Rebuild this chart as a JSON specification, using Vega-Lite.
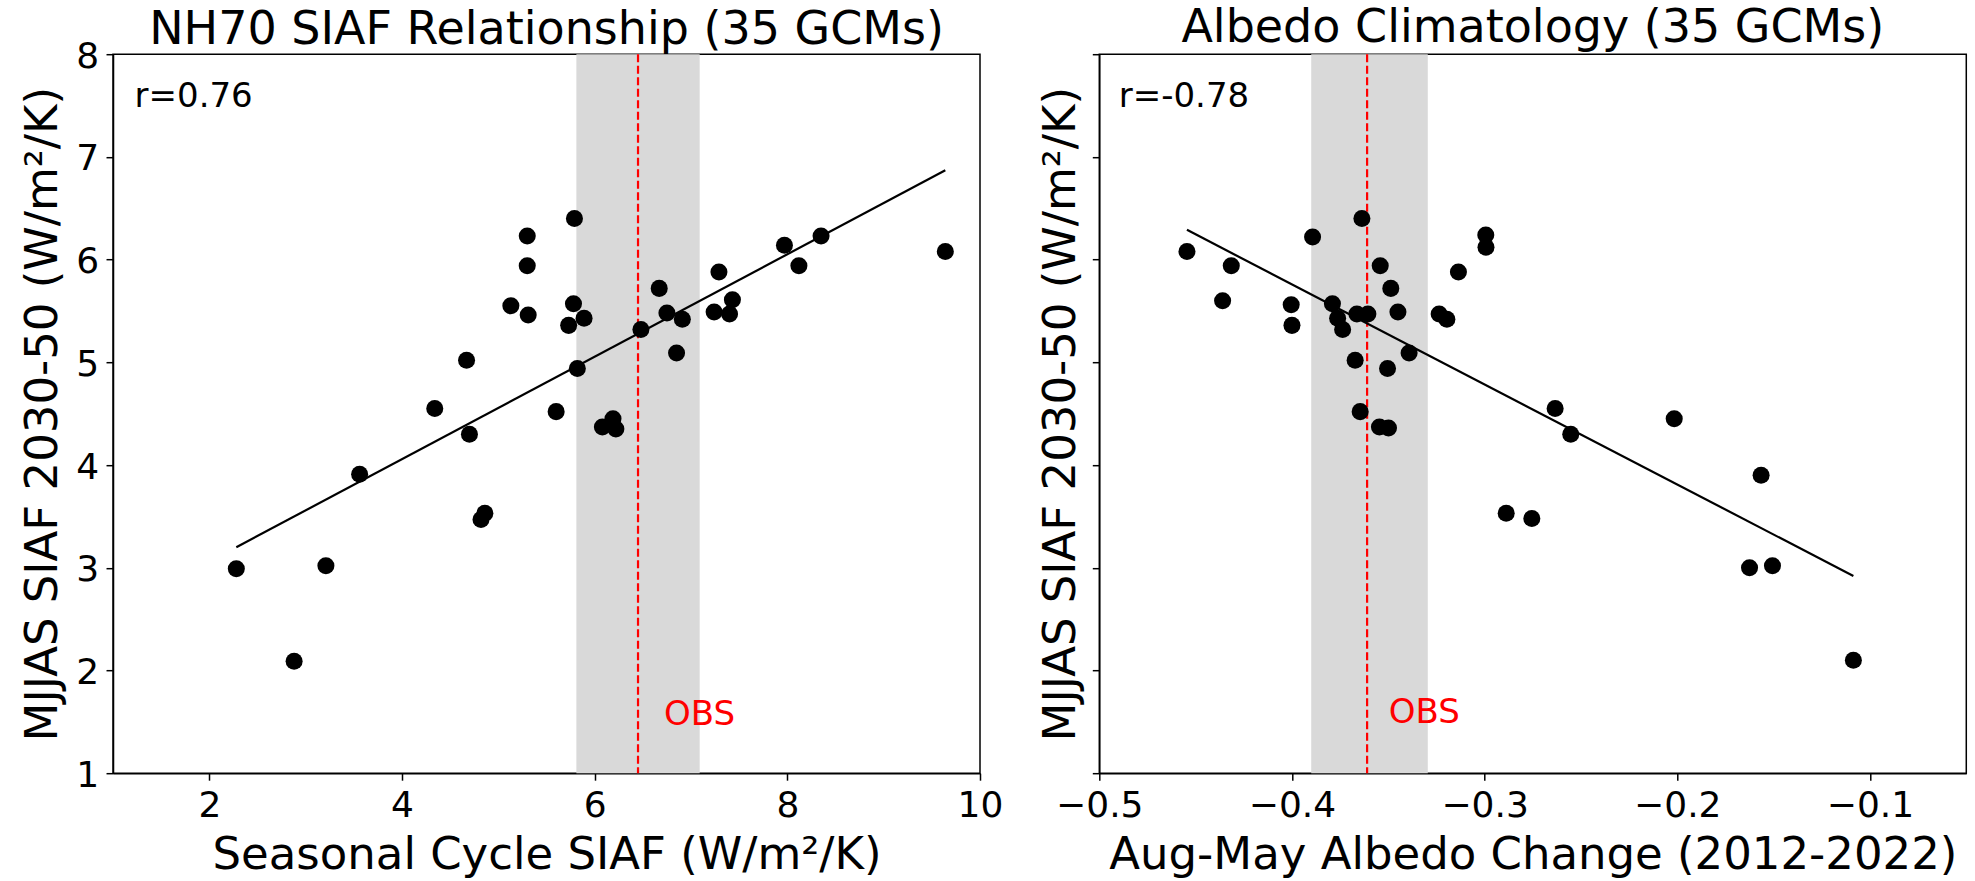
{
  "$schema": "https://vega.github.io/schema/vega-lite/v6.json",
  "padding": {"left": 19, "top": 3.2, "right": 5, "bottom": 2},
  "autosize": {"type": "pad"},
  "background": "white",
  "config": {
    "font": "DejaVu Sans",
    "view": {"stroke": "black", "strokeWidth": 1.5},
    "axis": {
      "grid": false,
      "domainColor": "black",
      "domainWidth": 1.5,
      "tickColor": "black",
      "tickWidth": 1.5,
      "tickSize": 7,
      "labelColor": "black",
      "titleColor": "black",
      "labelFontSize": 36,
      "titleFontSize": 45,
      "titleFontWeight": "normal",
      "labelFlush": false,
      "labelOverlap": false,
      "labelBound": false
    },
    "title": {
      "fontSize": 46,
      "fontWeight": "normal",
      "color": "black",
      "baseline": "alphabetic",
      "anchor": "middle",
      "frame": "group"
    }
  },
  "datasets": {
    "nh70": [
      {"seasonal_siaf": 2.28, "siaf_2030_50": 2.99},
      {"seasonal_siaf": 2.88, "siaf_2030_50": 2.09},
      {"seasonal_siaf": 3.21, "siaf_2030_50": 3.02},
      {"seasonal_siaf": 3.56, "siaf_2030_50": 3.91},
      {"seasonal_siaf": 4.34, "siaf_2030_50": 4.55},
      {"seasonal_siaf": 4.67, "siaf_2030_50": 5.02},
      {"seasonal_siaf": 4.70, "siaf_2030_50": 4.30},
      {"seasonal_siaf": 4.82, "siaf_2030_50": 3.47},
      {"seasonal_siaf": 4.86, "siaf_2030_50": 3.53},
      {"seasonal_siaf": 5.13, "siaf_2030_50": 5.55},
      {"seasonal_siaf": 5.30, "siaf_2030_50": 6.23},
      {"seasonal_siaf": 5.30, "siaf_2030_50": 5.94},
      {"seasonal_siaf": 5.31, "siaf_2030_50": 5.46},
      {"seasonal_siaf": 5.60, "siaf_2030_50": 4.52},
      {"seasonal_siaf": 5.73, "siaf_2030_50": 5.36},
      {"seasonal_siaf": 5.78, "siaf_2030_50": 5.57},
      {"seasonal_siaf": 5.79, "siaf_2030_50": 6.40},
      {"seasonal_siaf": 5.82, "siaf_2030_50": 4.94},
      {"seasonal_siaf": 5.89, "siaf_2030_50": 5.43},
      {"seasonal_siaf": 6.08, "siaf_2030_50": 4.37},
      {"seasonal_siaf": 6.19, "siaf_2030_50": 4.45},
      {"seasonal_siaf": 6.22, "siaf_2030_50": 4.35},
      {"seasonal_siaf": 6.48, "siaf_2030_50": 5.32},
      {"seasonal_siaf": 6.67, "siaf_2030_50": 5.72},
      {"seasonal_siaf": 6.75, "siaf_2030_50": 5.48},
      {"seasonal_siaf": 6.85, "siaf_2030_50": 5.09},
      {"seasonal_siaf": 6.91, "siaf_2030_50": 5.42},
      {"seasonal_siaf": 7.24, "siaf_2030_50": 5.49},
      {"seasonal_siaf": 7.29, "siaf_2030_50": 5.88},
      {"seasonal_siaf": 7.40, "siaf_2030_50": 5.47},
      {"seasonal_siaf": 7.43, "siaf_2030_50": 5.61},
      {"seasonal_siaf": 7.97, "siaf_2030_50": 6.14},
      {"seasonal_siaf": 8.12, "siaf_2030_50": 5.94},
      {"seasonal_siaf": 8.35, "siaf_2030_50": 6.23},
      {"seasonal_siaf": 9.64, "siaf_2030_50": 6.08}
    ],
    "albedo": [
      {"albedo_change": -0.4545, "siaf_2030_50": 6.08},
      {"albedo_change": -0.4315, "siaf_2030_50": 5.94},
      {"albedo_change": -0.436, "siaf_2030_50": 5.60},
      {"albedo_change": -0.4004, "siaf_2030_50": 5.56},
      {"albedo_change": -0.4, "siaf_2030_50": 5.36},
      {"albedo_change": -0.3893, "siaf_2030_50": 6.22},
      {"albedo_change": -0.379, "siaf_2030_50": 5.57},
      {"albedo_change": -0.3763, "siaf_2030_50": 5.43},
      {"albedo_change": -0.3737, "siaf_2030_50": 5.32},
      {"albedo_change": -0.3663, "siaf_2030_50": 5.47},
      {"albedo_change": -0.3606, "siaf_2030_50": 5.47},
      {"albedo_change": -0.3637, "siaf_2030_50": 6.40},
      {"albedo_change": -0.3542, "siaf_2030_50": 5.94},
      {"albedo_change": -0.3487, "siaf_2030_50": 5.72},
      {"albedo_change": -0.345, "siaf_2030_50": 5.49},
      {"albedo_change": -0.3392, "siaf_2030_50": 5.09},
      {"albedo_change": -0.3672, "siaf_2030_50": 5.02},
      {"albedo_change": -0.3504, "siaf_2030_50": 4.94},
      {"albedo_change": -0.3646, "siaf_2030_50": 4.52},
      {"albedo_change": -0.3546, "siaf_2030_50": 4.37},
      {"albedo_change": -0.3499, "siaf_2030_50": 4.36},
      {"albedo_change": -0.3236, "siaf_2030_50": 5.47},
      {"albedo_change": -0.3196, "siaf_2030_50": 5.42},
      {"albedo_change": -0.3136, "siaf_2030_50": 5.88},
      {"albedo_change": -0.2994, "siaf_2030_50": 6.24},
      {"albedo_change": -0.2993, "siaf_2030_50": 6.12},
      {"albedo_change": -0.2634, "siaf_2030_50": 4.55},
      {"albedo_change": -0.2553, "siaf_2030_50": 4.30},
      {"albedo_change": -0.2888, "siaf_2030_50": 3.53},
      {"albedo_change": -0.2755, "siaf_2030_50": 3.48},
      {"albedo_change": -0.2016, "siaf_2030_50": 4.45},
      {"albedo_change": -0.1565, "siaf_2030_50": 3.90},
      {"albedo_change": -0.1625, "siaf_2030_50": 3.00},
      {"albedo_change": -0.1506, "siaf_2030_50": 3.02},
      {"albedo_change": -0.1086, "siaf_2030_50": 2.10}
    ],
    "fit_nh70": [
      {"seasonal_siaf": 2.28, "siaf_2030_50": 3.20},
      {"seasonal_siaf": 9.64, "siaf_2030_50": 6.87}
    ],
    "fit_albedo": [
      {"albedo_change": -0.4545, "siaf_2030_50": 6.29},
      {"albedo_change": -0.1086, "siaf_2030_50": 2.92}
    ],
    "obs_nh70": [{"obs": 6.45, "lo": 5.81, "hi": 7.09}],
    "obs_albedo": [{"obs": -0.361, "lo": -0.390, "hi": -0.3295}],
    "r_nh70": [{"seasonal_siaf": 1.224, "siaf_2030_50": 7.487, "label": "r=0.76"}],
    "r_albedo": [{"albedo_change": -0.4899, "siaf_2030_50": 7.487, "label": "r=-0.78"}],
    "obs_label_nh70": [{"seasonal_siaf": 6.72, "siaf_2030_50": 1.47, "label": "OBS"}],
    "obs_label_albedo": [{"albedo_change": -0.3497, "siaf_2030_50": 1.49, "label": "OBS"}]
  },
  "spacing": 119.3,
  "bounds": "flush",
  "hconcat": [
    {
      "title": {"text": "NH70 SIAF Relationship (35 GCMs)", "offset": -15.5},
      "width": 867,
      "height": 719,
      "layer": [
        {
          "data": {"name": "obs_nh70"},
          "mark": {"type": "rect", "color": "#d9d9d9", "opacity": 1},
          "encoding": {
            "x": {"field": "lo", "type": "quantitative", "title": "Seasonal Cycle SIAF (W/m²/K)"},
            "x2": {"field": "hi"}
          }
        },
        {
          "data": {"name": "obs_nh70"},
          "mark": {"type": "rule", "color": "#ff0000", "strokeWidth": 2.2, "strokeDash": [8, 3.5]},
          "encoding": {
            "x": {"field": "obs", "type": "quantitative", "title": "Seasonal Cycle SIAF (W/m²/K)"}
          }
        },
        {
          "data": {"name": "nh70"},
          "mark": {"type": "circle", "size": 290, "color": "black", "opacity": 1},
          "encoding": {
            "x": {
              "field": "seasonal_siaf",
              "type": "quantitative",
              "title": "Seasonal Cycle SIAF (W/m²/K)",
              "scale": {"domain": [1, 10], "nice": false, "zero": false},
              "axis": {"values": [2, 4, 6, 8, 10], "format": "d", "titleY": 95, "titleBaseline": "alphabetic", "labelPadding": 8.3}
            },
            "y": {
              "field": "siaf_2030_50",
              "type": "quantitative",
              "title": "MJJAS SIAF 2030-50 (W/m²/K)",
              "scale": {"domain": [1, 8], "nice": false, "zero": false},
              "axis": {"values": [1, 2, 3, 4, 5, 6, 7, 8], "format": "d", "titleX": -56.7, "titleBaseline": "alphabetic", "labelPadding": 7.4, "labelBaseline": "alphabetic", "labelOffset": 13}
            }
          }
        },
        {
          "data": {"name": "fit_nh70"},
          "mark": {"type": "line", "color": "black", "strokeWidth": 2.2},
          "encoding": {
            "x": {"field": "seasonal_siaf", "type": "quantitative", "title": "Seasonal Cycle SIAF (W/m²/K)"},
            "y": {"field": "siaf_2030_50", "type": "quantitative", "title": "MJJAS SIAF 2030-50 (W/m²/K)"}
          }
        },
        {
          "data": {"name": "r_nh70"},
          "mark": {"type": "text", "align": "left", "baseline": "alphabetic", "fontSize": 34, "color": "black"},
          "encoding": {
            "x": {"field": "seasonal_siaf", "type": "quantitative", "title": "Seasonal Cycle SIAF (W/m²/K)"},
            "y": {"field": "siaf_2030_50", "type": "quantitative", "title": "MJJAS SIAF 2030-50 (W/m²/K)"},
            "text": {"field": "label"}
          }
        },
        {
          "data": {"name": "obs_label_nh70"},
          "mark": {"type": "text", "align": "left", "baseline": "alphabetic", "fontSize": 34, "color": "#ff0000"},
          "encoding": {
            "x": {"field": "seasonal_siaf", "type": "quantitative", "title": "Seasonal Cycle SIAF (W/m²/K)"},
            "y": {"field": "siaf_2030_50", "type": "quantitative", "title": "MJJAS SIAF 2030-50 (W/m²/K)"},
            "text": {"field": "label"}
          }
        }
      ]
    },
    {
      "title": {"text": "Albedo Climatology (35 GCMs)", "offset": 1.5},
      "width": 867,
      "height": 719,
      "layer": [
        {
          "data": {"name": "obs_albedo"},
          "mark": {"type": "rect", "color": "#d9d9d9", "opacity": 1},
          "encoding": {
            "x": {"field": "lo", "type": "quantitative", "title": "Aug-May Albedo Change (2012-2022)"},
            "x2": {"field": "hi"}
          }
        },
        {
          "data": {"name": "obs_albedo"},
          "mark": {"type": "rule", "color": "#ff0000", "strokeWidth": 2.2, "strokeDash": [8, 3.5]},
          "encoding": {
            "x": {"field": "obs", "type": "quantitative", "title": "Aug-May Albedo Change (2012-2022)"}
          }
        },
        {
          "data": {"name": "albedo"},
          "mark": {"type": "circle", "size": 290, "color": "black", "opacity": 1},
          "encoding": {
            "x": {
              "field": "albedo_change",
              "type": "quantitative",
              "title": "Aug-May Albedo Change (2012-2022)",
              "scale": {"domain": [-0.5, -0.05], "nice": false, "zero": false},
              "axis": {"values": [-0.5, -0.4, -0.3, -0.2, -0.1], "format": ".1f", "titleY": 95, "titleBaseline": "alphabetic", "labelPadding": 8.3}
            },
            "y": {
              "field": "siaf_2030_50",
              "type": "quantitative",
              "title": "MJJAS SIAF 2030-50 (W/m²/K)",
              "scale": {"domain": [1, 8], "nice": false, "zero": false},
              "axis": {"values": [1, 2, 3, 4, 5, 6, 7, 8], "labels": false, "titleX": -25, "titleBaseline": "alphabetic"}
            }
          }
        },
        {
          "data": {"name": "fit_albedo"},
          "mark": {"type": "line", "color": "black", "strokeWidth": 2.2},
          "encoding": {
            "x": {"field": "albedo_change", "type": "quantitative", "title": "Aug-May Albedo Change (2012-2022)"},
            "y": {"field": "siaf_2030_50", "type": "quantitative", "title": "MJJAS SIAF 2030-50 (W/m²/K)"}
          }
        },
        {
          "data": {"name": "r_albedo"},
          "mark": {"type": "text", "align": "left", "baseline": "alphabetic", "fontSize": 34, "color": "black"},
          "encoding": {
            "x": {"field": "albedo_change", "type": "quantitative", "title": "Aug-May Albedo Change (2012-2022)"},
            "y": {"field": "siaf_2030_50", "type": "quantitative", "title": "MJJAS SIAF 2030-50 (W/m²/K)"},
            "text": {"field": "label"}
          }
        },
        {
          "data": {"name": "obs_label_albedo"},
          "mark": {"type": "text", "align": "left", "baseline": "alphabetic", "fontSize": 34, "color": "#ff0000"},
          "encoding": {
            "x": {"field": "albedo_change", "type": "quantitative", "title": "Aug-May Albedo Change (2012-2022)"},
            "y": {"field": "siaf_2030_50", "type": "quantitative", "title": "MJJAS SIAF 2030-50 (W/m²/K)"},
            "text": {"field": "label"}
          }
        }
      ]
    }
  ]
}
